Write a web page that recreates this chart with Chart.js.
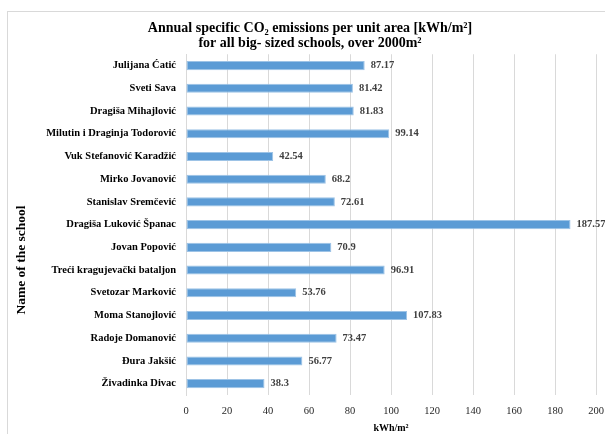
<!DOCTYPE html>
<html>
<head>
<meta charset="utf-8">
<script src="https://cdn.jsdelivr.net/npm/chart.js@4"></script>
<style>
  html, body { margin: 0; padding: 0; background: #fff; }
  #wrap { position: relative; width: 605px; height: 434px; overflow: hidden; }
  #frame { position: absolute; left: 7px; top: 11px; width: 620px; height: 440px;
           border-left: 1px solid #d9d9d9; border-top: 1px solid #d9d9d9; }
  canvas { position: absolute; left: 0; top: 0; }
</style>
</head>
<body>
<div id="wrap">
  <div id="frame"></div>
  <canvas id="co2Chart" width="605" height="434"></canvas>
</div>
<script>
// School names, top to bottom as in the picture
const schools = [
  "Julijana Ćatić",
  "Sveti Sava",
  "Dragiša Mihajlović",
  "Milutin i Draginja Todorović",
  "Vuk Stefanović Karadžić",
  "Mirko Jovanović",
  "Stanislav Sremčević",
  "Dragiša Luković Španac",
  "Jovan Popović",
  "Treći kragujevački bataljon",
  "Svetozar Marković",
  "Moma Stanojlović",
  "Radoje Domanović",
  "Đura Jakšić",
  "Živadinka Divac",
];

// Annual specific emissions, kWh/m2
const emissions = [
  87.17, 81.42, 81.83, 99.14, 42.54, 68.2, 72.61, 187.57,
  70.9, 96.91, 53.76, 107.83, 73.47, 56.77, 38.3,
];

// x axis range and step
const xMin = 0;
const xMax = 200;
const xStep = 20;

const serif = "'Liberation Serif', 'Times New Roman', serif";

// draws the value at the end of each bar
const valueLabels = {
  id: "valueLabels",
  afterDatasetsDraw(chart) {
    const ctx = chart.ctx;
    const meta = chart.getDatasetMeta(0);
    ctx.save();
    ctx.font = "bold 10.5px " + serif;
    ctx.fillStyle = "#404040";
    ctx.textAlign = "left";
    ctx.textBaseline = "middle";
    meta.data.forEach((bar, i) => {
      ctx.fillText(String(emissions[i]), bar.x + 6, bar.y);
    });
    ctx.restore();
  },
};

// y axis title sits a bit below the middle in the original, so draw it by hand
const yTitle = {
  id: "yTitle",
  afterDraw(chart) {
    const ctx = chart.ctx;
    ctx.save();
    ctx.translate(22, 260);
    ctx.rotate(-Math.PI / 2);
    ctx.font = "bold 13.5px " + serif;
    ctx.fillStyle = "#000";
    ctx.textAlign = "center";
    ctx.textBaseline = "middle";
    ctx.fillText("Name of the school", 0, 0);
    ctx.restore();
  },
};

const ctx = document.getElementById("co2Chart").getContext("2d");
new Chart(ctx, {
  type: "bar",
  data: {
    labels: schools,
    datasets: [
      {
        data: emissions,
        backgroundColor: "#5b9bd5",
        borderColor: "#9dc3e6",
        borderWidth: 1,
        borderSkipped: false,
        categoryPercentage: 1,
        barPercentage: 0.4,
      },
    ],
  },
  options: {
    indexAxis: "y",
    responsive: false,
    animation: false,
    layout: { padding: { left: 24, right: 9, top: 0, bottom: 0 } },
    plugins: {
      legend: { display: false },
      tooltip: { enabled: false },
      title: {
        display: true,
        text: [
          "Annual specific CO₂ emissions per unit area [kWh/m²]",
          "for all big- sized schools, over 2000m²",
        ],
        color: "#000",
        font: { family: serif, size: 14, weight: "bold", lineHeight: 1.08 },
        padding: { top: 21, bottom: 3 },
      },
    },
    scales: {
      x: {
        min: xMin,
        max: xMax,
        ticks: {
          stepSize: xStep,
          color: "#262626",
          font: { family: serif, size: 10.5 },
          padding: 10,
          maxRotation: 0,
        },
        grid: { color: "#d9d9d9", drawTicks: false },
        border: { display: false },
        title: {
          display: true,
          text: "kWh/m²",
          color: "#000",
          font: { family: serif, size: 10, weight: "bold" },
          padding: 0,
        },
        afterFit(scale) {
          scale.height = 39;
          scale.paddingRight = 0;
        },
      },
      y: {
        ticks: {
          color: "#000",
          font: { family: serif, size: 10.5, weight: "bold" },
          padding: 10,
        },
        grid: { display: false, drawTicks: false },
        border: { display: true, color: "#d9d9d9" },
        afterFit(scale) {
          scale.width = 162;
        },
      },
    },
  },
  plugins: [valueLabels, yTitle],
});
</script>
</body>
</html>
